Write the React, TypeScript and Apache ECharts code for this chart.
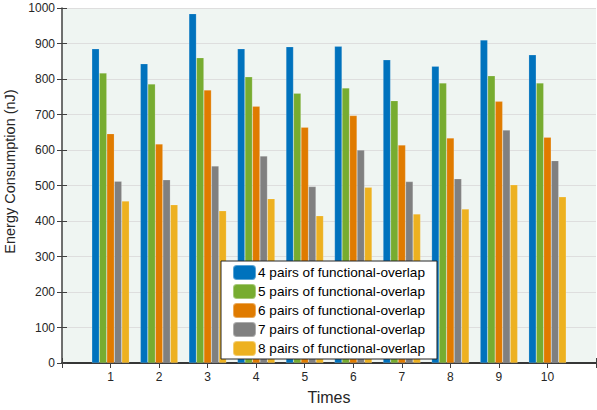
import React, { useEffect, useRef } from "react";
import * as echarts from "echarts";

const categories = [1, 2, 3, 4, 5, 6, 7, 8, 9, 10];
const seriesNames = [
  "4 pairs of functional-overlap",
  "5 pairs of functional-overlap",
  "6 pairs of functional-overlap",
  "7 pairs of functional-overlap",
  "8 pairs of functional-overlap",
];
const pairs4 = [885, 843, 984, 885, 891, 892, 854, 836, 910, 868];
const pairs5 = [817, 786, 860, 806, 760, 775, 739, 789, 809, 789];
const pairs6 = [646, 617, 769, 723, 664, 697, 614, 634, 737, 636];
const pairs7 = [512, 516, 555, 583, 497, 600, 511, 519, 656, 570];
const pairs8 = [456, 446, 429, 463, 415, 495, 420, 434, 502, 468];
const colors = ["#0072BD", "#77AC30", "#E07B00", "#808080", "#EDB120"];
const allSeries = [pairs4, pairs5, pairs6, pairs7, pairs8];

export default function App() {
  const ref = useRef<HTMLDivElement>(null);
  useEffect(() => {
    document.body.style.margin = "0";
    const chart = echarts.init(ref.current!, null, { renderer: "svg" });
    const font = "Helvetica, Arial, 'Liberation Sans', sans-serif";
    const axisColor = "#404040";
    chart.setOption({
      animation: false,
      textStyle: { fontFamily: font },
      grid: {
        left: 62,
        right: 1,
        top: 8,
        bottom: 47,
        show: true,
        backgroundColor: "#EFF5F2",
        borderWidth: 0,
        outerBoundsMode: "none",
        containLabel: false,
      },
      legend: {
        show: true,
        orient: "vertical",
        left: 221,
        top: 261,
        itemWidth: 23,
        itemHeight: 15,
        itemGap: 2,
        padding: [3, 12, 2, 11],
        backgroundColor: "#ffffff",
        borderColor: "#262626",
        borderWidth: 1,
        borderRadius: 0,
        textStyle: {
          fontSize: 13.6,
          lineHeight: 15,
          color: "#000",
          fontFamily: font,
          padding: [0, 0, 0, -3],
        },
        data: seriesNames,
      },
      xAxis: [
        {
          type: "value",
          min: 0,
          max: 11,
          interval: 1,
          name: "Times",
          nameLocation: "middle",
          nameGap: 26,
          nameTextStyle: { fontSize: 16, color: "#262626" },
          axisLine: { show: true, lineStyle: { color: axisColor, width: 1.5 } },
          axisTick: { show: true, inside: true, length: 5, lineStyle: { color: axisColor } },
          axisLabel: {
            fontSize: 12,
            color: "#262626",
            margin: 8,
            formatter: (v: number) => (v >= 1 && v <= 10 ? String(v) : ""),
          },
          splitLine: { show: false },
        },
        {
          type: "value",
          min: 0,
          max: 11,
          interval: 1,
          position: "top",
          axisLine: { show: true, lineStyle: { color: "#262626", width: 1.5 } },
          axisTick: { show: true, inside: true, length: 5, lineStyle: { color: axisColor } },
          axisLabel: { show: false },
          splitLine: { show: false },
        },
      ],
      yAxis: [
        {
          type: "value",
          min: 0,
          max: 1000,
          interval: 100,
          name: "Energy Consumption (nJ)",
          nameLocation: "middle",
          nameGap: 41,
          nameTextStyle: { fontSize: 14.5, color: "#262626", padding: [0, 0, 0, 28] },
          axisLine: { show: true, lineStyle: { color: axisColor, width: 1.5 } },
          axisTick: { show: true, inside: true, length: 5, lineStyle: { color: axisColor } },
          axisLabel: {
            fontSize: 12,
            color: "#262626",
            margin: 7,
            formatter: (v: number) => String(v),
          },
          splitLine: { show: true, lineStyle: { color: "#DEDEDE", width: 1 } },
        },
        {
          type: "value",
          min: 0,
          max: 1000,
          interval: 100,
          position: "right",
          axisLine: { show: false },
          axisTick: { show: true, inside: true, length: 5, lineStyle: { color: axisColor } },
          axisLabel: { show: false },
          splitLine: { show: false },
        },
      ],
      series: allSeries.map((vals, i) => ({
        type: "bar",
        name: seriesNames[i],
        xAxisIndex: 0,
        yAxisIndex: 0,
        barWidth: 7.5,
        barGap: "0%",
        itemStyle: { color: colors[i], borderColor: "rgba(255,255,255,0.35)", borderWidth: 0.5 },
        data: categories.map((c, j) => [c, vals[j]]),
      })),
    });
    return () => chart.dispose();
  }, []);
  return <div ref={ref} style={{ width: 597, height: 410 }} />;
}
